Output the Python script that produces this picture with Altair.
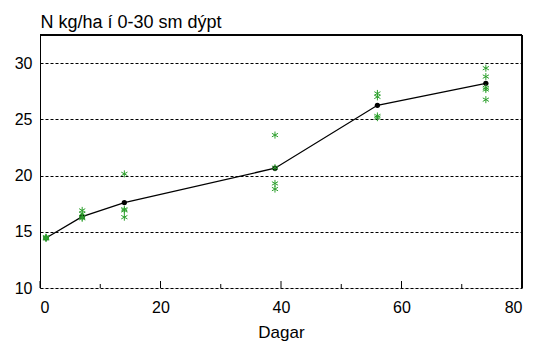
import altair as alt
import pandas as pd

days = [1, 7, 14, 39, 56, 74]
means = [14.45, 16.35, 17.6, 20.65, 26.25, 28.2]

rep_days = [1, 1, 1, 1,
            7, 7, 7, 7,
            14, 14, 14, 14,
            39, 39, 39, 39,
            56, 56, 56, 56,
            74, 74, 74, 74, 74]
rep_vals = [14.4, 14.5, 14.45, 14.5,
            16.9, 16.6, 16.2, 16.3,
            20.15, 16.9, 16.3, 17.0,
            23.6, 19.3, 18.8, 20.7,
            27.3, 27.0, 25.15, 25.3,
            29.55, 28.8, 27.8, 27.65, 26.75]

y_ticks = [10, 15, 20, 25, 30]
x_ticks = [0, 20, 40, 60, 80]
major_ticks = [0, 20, 40, 60, 80]
minor_ticks = [10, 30, 50, 70]

W, H = 482, 253
FONT = "Liberation Sans"

mean_df = pd.DataFrame({"day": days, "value": means})
rep_df = pd.DataFrame({"day": rep_days, "value": rep_vals})
major_df = pd.DataFrame({"day": major_ticks})
minor_df = pd.DataFrame({"day": minor_ticks})

xscale = alt.Scale(domain=[0, 80], nice=False, zero=False)
yscale = alt.Scale(domain=[10, 32.5], nice=False, zero=False)

xaxis = alt.Axis(values=x_ticks, grid=False, ticks=False, domain=False,
                 labelFont=FONT, labelFontSize=16, labelColor="#000",
                 labelPadding=11, title="Dagar", titleFont=FONT,
                 titleFontSize=17, titleFontWeight="normal", titleColor="#000",
                 titleY=49, titleBaseline="alphabetic")
yaxis = alt.Axis(values=y_ticks, grid=True, gridColor="#000", gridDash=[3, 2],
                 gridWidth=1, gridOpacity=1, ticks=False, domain=True,
                 domainColor="#000", domainWidth=1,
                 labelFont=FONT, labelFontSize=16, labelColor="#000",
                 labelPadding=8, title="N kg/ha í 0-30 sm dýpt",
                 titleFont=FONT, titleFontSize=18, titleFontWeight="normal",
                 titleColor="#000", titleAngle=0, titleAlign="left",
                 titleBaseline="alphabetic", titleX=0, titleY=-8)

base_mean = alt.Chart(mean_df)

line = base_mean.mark_line(color="#000", strokeWidth=1.3).encode(
    x=alt.X("day:Q", scale=xscale, axis=xaxis),
    y=alt.Y("value:Q", scale=yscale, axis=yaxis),
)
dots = base_mean.mark_point(filled=True, color="#000", size=28, opacity=1).encode(
    x=alt.X("day:Q", scale=xscale),
    y=alt.Y("value:Q", scale=yscale),
)
stars = alt.Chart(rep_df).mark_point(
    shape="M0,-1L0,1M-0.87,-0.5L0.87,0.5M-0.87,0.5L0.87,-0.5",
    filled=False, color="#2ca02c", size=50, strokeWidth=1, opacity=1,
).encode(
    x=alt.X("day:Q", scale=xscale),
    y=alt.Y("value:Q", scale=yscale),
)
major = alt.Chart(major_df).mark_rule(color="#000", strokeWidth=1).encode(
    x=alt.X("day:Q", scale=xscale),
    y=alt.value(H - 7), y2=alt.value(H),
)
minor = alt.Chart(minor_df).mark_rule(color="#000", strokeWidth=1).encode(
    x=alt.X("day:Q", scale=xscale),
    y=alt.value(H - 4), y2=alt.value(H),
)
top = alt.Chart(mean_df).mark_rule(color="#000", strokeWidth=1).encode(
    x=alt.value(0), x2=alt.value(W), y=alt.value(0)
)
right = alt.Chart(mean_df).mark_rule(color="#000", strokeWidth=1).encode(
    x=alt.value(W), y=alt.value(0), y2=alt.value(H)
)

chart = alt.layer(line, major, minor, top, right, dots, stars).properties(
    width=W, height=H,
    autosize=alt.AutoSizeParams(type="none"),
    padding={"left": 32, "top": 27, "right": 7, "bottom": 57},
).configure_view(stroke=None).configure(background="white")

chart.save("out.html", embed_options={"renderer": "svg", "actions": False})
